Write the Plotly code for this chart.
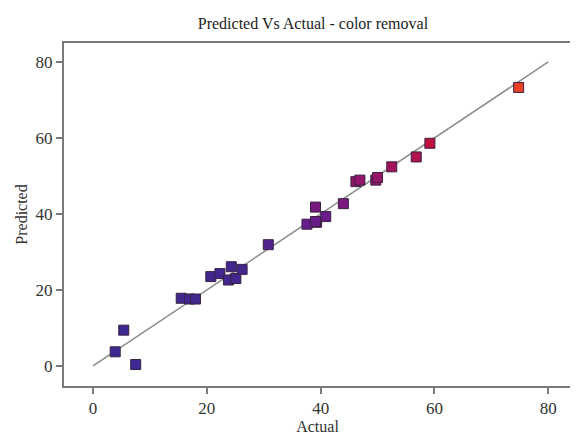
import plotly.graph_objects as go

actual = [3.9, 5.4, 7.5, 15.5, 17.0, 18.0, 20.7, 22.3, 23.8, 24.3, 25.1, 26.2, 30.8,
          37.6, 39.3, 39.1, 40.9, 39.1, 44.0, 46.2, 46.9, 49.7, 50.0, 52.5, 56.8, 59.2, 74.8]
predicted = [3.7, 9.4, 0.35, 17.8, 17.6, 17.6, 23.5, 24.3, 22.6, 26.1, 23.0, 25.4, 31.9,
             37.3, 37.8, 38.0, 39.3, 41.8, 42.7, 48.5, 48.9, 48.9, 49.6, 52.4, 55.0, 58.6, 73.3]
ref_line = [0, 80]
x_ticks = [0, 20, 40, 60, 80]
y_ticks = [0, 20, 40, 60, 80]

colorscale = [[0.0, "#3a2a92"], [0.35, "#43278f"], [0.52, "#6a1b8a"],
              [0.66, "#951468"], [0.78, "#c0123e"], [1.0, "#ee4622"]]

SERIF = "Liberation Serif, Times New Roman, serif"

fig = go.Figure()
fig.add_trace(go.Scatter(x=ref_line, y=ref_line, mode="lines",
                         line=dict(color="#8c8c8c", width=1.5), showlegend=False))
fig.add_trace(go.Scatter(
    x=actual, y=predicted, mode="markers", showlegend=False,
    marker=dict(symbol="square", size=10, color=predicted, colorscale=colorscale,
                cmin=0, cmax=75, line=dict(color="#3a2040", width=1))))

axis_common = dict(showgrid=False, zeroline=False, showline=True, linecolor="#7a7a7a",
                   linewidth=2, mirror=True, ticks="outside", ticklen=6, tickwidth=1.5,
                   tickcolor="#7a7a7a", automargin=False,
                   tickfont=dict(family=SERIF, size=17, color="#333333"))

fig.update_layout(
    width=570, height=433,
    margin=dict(l=56, r=7, t=35, b=55),
    paper_bgcolor="white", plot_bgcolor="white",
    title=dict(text="Predicted Vs Actual - color removal", x=0.535, xanchor="center",
               y=0.978, yanchor="top",
               font=dict(family=SERIF, size=16, color="#222222")),
    xaxis=dict(range=[-5.1, 84], tickvals=x_ticks,
               title=dict(text="Actual", standoff=0,
                          font=dict(family=SERIF, size=16, color="#333333")),
               **axis_common),
    yaxis=dict(range=[-5.3, 85], tickvals=y_ticks,
               title=dict(text="Predicted", standoff=4,
                          font=dict(family=SERIF, size=16, color="#333333")),
               **axis_common),
)

fig.write_html("out.html")
